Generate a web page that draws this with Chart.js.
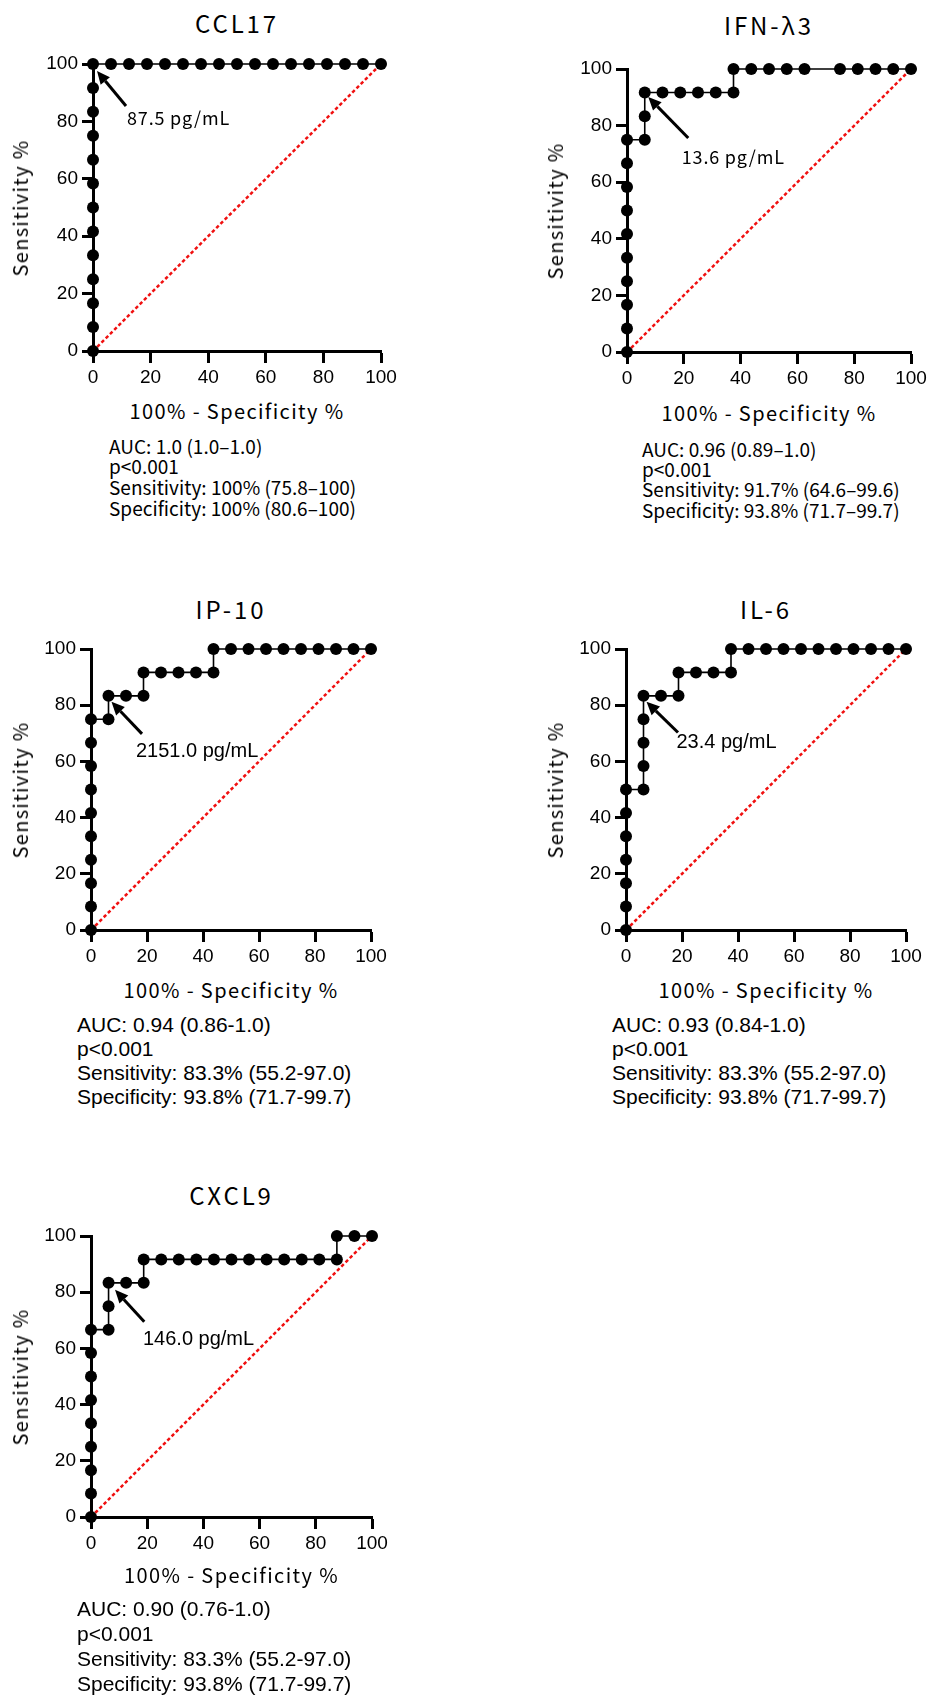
<!DOCTYPE html>
<html lang="en">
<head>
<meta charset="UTF-8">
<title>ROC curves</title>
<script src="https://cdn.jsdelivr.net/npm/chart.js"></script>
<style>
  body { margin: 0; background: #fff; }
  #page { position: relative; width: 928px; height: 1696px; overflow: hidden; background: #fff; }
  canvas { position: absolute; }
  .txt { position: absolute; white-space: nowrap; color: #000; }
  .jp { font-family: "Noto Sans CJK JP", sans-serif; }
  .ar { font-family: "Liberation Sans", Arial, sans-serif; }
</style>
</head>
<body>
<div id="page"></div>
<script>
// ROC points: x = 100% - specificity, y = sensitivity
const ccl17X = [0, 0, 0, 0, 0, 0, 0, 0, 0, 0, 0, 0, 0,
  6.25, 12.5, 18.75, 25, 31.25, 37.5, 43.75, 50, 56.25, 62.5, 68.75, 75, 81.25, 87.5, 93.75, 100];
const ccl17Y = [0, 8.33, 16.67, 25, 33.33, 41.67, 50, 58.33, 66.67, 75, 83.33, 91.67, 100,
  100, 100, 100, 100, 100, 100, 100, 100, 100, 100, 100, 100, 100, 100, 100, 100];

const ifnX = [0, 0, 0, 0, 0, 0, 0, 0, 0, 0, 6.25, 6.25, 6.25, 12.5, 18.75, 25, 31.25, 37.5,
  37.5, 43.75, 50, 56.25, 62.5, 75, 81.25, 87.5, 93.75, 100];
const ifnY = [0, 8.33, 16.67, 25, 33.33, 41.67, 50, 58.33, 66.67, 75, 75, 83.33, 91.67, 91.67, 91.67, 91.67, 91.67, 91.67,
  100, 100, 100, 100, 100, 100, 100, 100, 100, 100];

const ip10X = [0, 0, 0, 0, 0, 0, 0, 0, 0, 0, 6.25, 6.25, 12.5, 18.75, 18.75, 25, 31.25, 37.5, 43.75,
  43.75, 50, 56.25, 62.5, 68.75, 75, 81.25, 87.5, 93.75, 100];
const ip10Y = [0, 8.33, 16.67, 25, 33.33, 41.67, 50, 58.33, 66.67, 75, 75, 83.33, 83.33, 83.33, 91.67, 91.67, 91.67, 91.67, 91.67,
  100, 100, 100, 100, 100, 100, 100, 100, 100, 100];

const il6X = [0, 0, 0, 0, 0, 0, 0, 6.25, 6.25, 6.25, 6.25, 6.25, 12.5, 18.75, 18.75, 25, 31.25, 37.5,
  37.5, 43.75, 50, 56.25, 62.5, 68.75, 75, 81.25, 87.5, 93.75, 100];
const il6Y = [0, 8.33, 16.67, 25, 33.33, 41.67, 50, 50, 58.33, 66.67, 75, 83.33, 83.33, 83.33, 91.67, 91.67, 91.67, 91.67,
  100, 100, 100, 100, 100, 100, 100, 100, 100, 100, 100];

const cxcl9X = [0, 0, 0, 0, 0, 0, 0, 0, 0, 6.25, 6.25, 6.25, 12.5, 18.75, 18.75,
  25, 31.25, 37.5, 43.75, 50, 56.25, 62.5, 68.75, 75, 81.25, 87.5, 87.5, 93.75, 100];
const cxcl9Y = [0, 8.33, 16.67, 25, 33.33, 41.67, 50, 58.33, 66.67, 66.67, 75, 83.33, 83.33, 83.33, 91.67,
  91.67, 91.67, 91.67, 91.67, 91.67, 91.67, 91.67, 91.67, 91.67, 91.67, 91.67, 100, 100, 100];

const titles = ['CCL17', 'IFN-\u03bb3', 'IP-10', 'IL-6', 'CXCL9'];
const cutoffLabels = ['87.5 pg/mL', '13.6 pg/mL', '2151.0 pg/mL', '23.4 pg/mL', '146.0 pg/mL'];
const cutoffIndex = [12, 12, 11, 11, 11];
const statLines = [
  ['AUC: 1.0 (1.0\u20131.0)', 'p\u003c0.001', 'Sensitivity: 100% (75.8\u2013100)', 'Specificity: 100% (80.6\u2013100)'],
  ['AUC: 0.96 (0.89\u20131.0)', 'p\u003c0.001', 'Sensitivity: 91.7% (64.6\u201399.6)', 'Specificity: 93.8% (71.7\u201399.7)'],
  ['AUC: 0.94 (0.86-1.0)', 'p<0.001', 'Sensitivity: 83.3% (55.2-97.0)', 'Specificity: 93.8% (71.7-99.7)'],
  ['AUC: 0.93 (0.84-1.0)', 'p<0.001', 'Sensitivity: 83.3% (55.2-97.0)', 'Specificity: 93.8% (71.7-99.7)'],
  ['AUC: 0.90 (0.76-1.0)', 'p<0.001', 'Sensitivity: 83.3% (55.2-97.0)', 'Specificity: 93.8% (71.7-99.7)']
];
const xTitle = '100% - Specificity %';
const yTitle = 'Sensitivity %';

// layout of each panel (plot rectangle, text anchors, arrow offsets)
const layouts = [
  { L: 93, R: 381, T: 64, B: 351, titleY: 23, xTitleY: 411, yTitleX: 20, statX: 109, statY: 446, statLH: 20.8, jp: true,
    tip: [4, 7], tail: [33, 42], text: [34, 54] },
  { L: 627, R: 911, T: 69, B: 352, titleY: 25, xTitleY: 413, yTitleX: 555, statX: 642, statY: 449, statLH: 20.2, jp: true,
    tip: [3.5, 4.5], tail: [43.5, 45.5], text: [37, 64.5] },
  { L: 91, R: 371, T: 649, B: 930, titleY: 609, xTitleY: 990, yTitleX: 20, statX: 77, statY: 1025, statLH: 24, jp: false,
    tip: [3, 6], tail: [33.5, 38], text: [27.5, 55.7] },
  { L: 626, R: 906, T: 649, B: 930, titleY: 609, xTitleY: 990, yTitleX: 555, statX: 612, statY: 1025, statLH: 24, jp: false,
    tip: [3, 6], tail: [34.5, 36.7], text: [33, 47] },
  { L: 91, R: 372, T: 1236, B: 1517, titleY: 1195, xTitleY: 1575, yTitleX: 20, statX: 77, statY: 1608, statLH: 25, jp: false,
    tip: [6.5, 7], tail: [35.7, 39], text: [34.4, 57] }
];
const seriesX = [ccl17X, ifnX, ip10X, il6X, cxcl9X];
const seriesY = [ccl17Y, ifnY, ip10Y, il6Y, cxcl9Y];

const JP = '"Noto Sans CJK JP", sans-serif';
const AR = '"Liberation Sans", Arial, sans-serif';

// letter spacing needed so a string hits a measured width
const measurer = document.createElement('canvas').getContext('2d');
function spacingFor(font, text, target) {
  measurer.font = font;
  return (target - measurer.measureText(text).width) / text.length;
}
const titleLS = spacingFor('24px ' + JP, 'CCL17', 84);
const axisLS = spacingFor('20px ' + JP, xTitle, 215);
const yAxisLS = spacingFor('20px ' + JP, yTitle, 137);
const statJpLS = spacingFor('19px ' + JP, 'Specificity: 100% (80.6\u2013100)', 247);
const annJpLS = spacingFor('18px ' + JP, '87.5 pg/mL', 103);

const page = document.getElementById('page');
function addText(text, cls, css) {
  const d = document.createElement('div');
  d.className = 'txt ' + cls;
  d.textContent = text;
  Object.assign(d.style, css);
  page.appendChild(d);
  return d;
}

// arrow + cutoff label at the chosen point
const cutoffArrow = {
  id: 'cutoffArrow',
  afterDatasetsDraw(chart, args, opts) {
    const p = chart.data.datasets[0].data[opts.index];
    const px = chart.scales.x.getPixelForValue(p.x);
    const py = chart.scales.y.getPixelForValue(p.y);
    const ctx = chart.ctx;
    const tx = px + opts.tip[0], ty = py + opts.tip[1];
    const sx = px + opts.tail[0], sy = py + opts.tail[1];
    const ang = Math.atan2(ty - sy, tx - sx);
    const head = 13, half = 6;
    const bx = tx - head * Math.cos(ang), by = ty - head * Math.sin(ang);
    ctx.save();
    ctx.strokeStyle = '#000';
    ctx.fillStyle = '#000';
    ctx.lineWidth = 3;
    ctx.beginPath();
    ctx.moveTo(sx, sy);
    ctx.lineTo(bx, by);
    ctx.stroke();
    ctx.beginPath();
    ctx.moveTo(tx, ty);
    ctx.lineTo(bx + half * Math.sin(ang), by - half * Math.cos(ang));
    ctx.lineTo(bx - half * Math.sin(ang), by + half * Math.cos(ang));
    ctx.closePath();
    ctx.fill();
    ctx.font = opts.font;
    if ('letterSpacing' in ctx) ctx.letterSpacing = opts.spacing + 'px';
    ctx.textAlign = 'left';
    ctx.textBaseline = 'middle';
    ctx.fillText(opts.label, px + opts.text[0], py + opts.text[1]);
    ctx.restore();
  }
};

const PAD_TOP = 20, PAD_RIGHT = 25, Y_AXIS_W = 60, X_AXIS_H = 45;

layouts.forEach((lay, i) => {
  const canvas = document.createElement('canvas');
  const w = Y_AXIS_W + (lay.R - lay.L) + PAD_RIGHT;
  const h = PAD_TOP + (lay.B - lay.T) + X_AXIS_H;
  canvas.width = w;
  canvas.height = h;
  canvas.style.left = (lay.L - Y_AXIS_W) + 'px';
  canvas.style.top = (lay.T - PAD_TOP) + 'px';
  canvas.style.width = w + 'px';
  canvas.style.height = h + 'px';
  page.appendChild(canvas);

  const pts = seriesX[i].map((x, k) => ({ x: x, y: seriesY[i][k] }));
  const tickFont = { family: AR, size: 19 };

  new Chart(canvas, {
    type: 'scatter',
    data: {
      datasets: [{
        data: pts,
        showLine: true,
        borderColor: '#000',
        borderWidth: 1.6,
        pointRadius: 6,
        pointHoverRadius: 6,
        pointBackgroundColor: '#000',
        pointBorderWidth: 0,
        clip: false,
        order: 0
      }, {
        data: [{ x: 0, y: 0 }, { x: 100, y: 100 }],
        showLine: true,
        borderColor: '#f01010',
        borderWidth: 2.5,
        borderDash: [3.5, 2.5],
        pointRadius: 0,
        order: 1
      }]
    },
    options: {
      responsive: false,
      animation: false,
      devicePixelRatio: 1,
      events: [],
      layout: { padding: { top: PAD_TOP, right: PAD_RIGHT, left: 0, bottom: 0 } },
      plugins: {
        legend: { display: false },
        tooltip: { enabled: false },
        cutoffArrow: {
          index: cutoffIndex[i],
          label: cutoffLabels[i],
          tip: lay.tip, tail: lay.tail, text: lay.text,
          font: lay.jp ? '18px ' + JP : '20px ' + AR,
          spacing: lay.jp ? annJpLS : 0
        }
      },
      scales: {
        x: {
          type: 'linear', min: 0, max: 100,
          ticks: { stepSize: 20, color: '#000', font: tickFont, padding: 3, maxRotation: 0 },
          grid: { drawOnChartArea: false, tickLength: 12, tickWidth: 3, tickColor: '#000' },
          border: { display: true, width: 3, color: '#000' },
          afterFit(s) { s.height = X_AXIS_H; s.paddingLeft = 0; s.paddingRight = 0; }
        },
        y: {
          type: 'linear', min: 0, max: 100,
          ticks: { stepSize: 20, color: '#000', font: tickFont, padding: 4 },
          grid: { drawOnChartArea: false, tickLength: 11, tickWidth: 3, tickColor: '#000' },
          border: { display: true, width: 3, color: '#000' },
          afterFit(s) { s.width = Y_AXIS_W; s.paddingTop = 0; s.paddingBottom = 0; }
        }
      }
    },
    plugins: [cutoffArrow]
  });

  const cx = (lay.L + lay.R) / 2;
  const cy = (lay.T + lay.B) / 2;
  addText(titles[i], 'jp', { left: cx + 'px', top: (lay.titleY - 16) + 'px', lineHeight: '32px',
    fontSize: '24px', letterSpacing: titleLS + 'px', transform: 'translateX(-50%)' });
  addText(xTitle, 'jp', { left: cx + 'px', top: (lay.xTitleY - 14) + 'px', lineHeight: '28px',
    fontSize: '20px', letterSpacing: axisLS + 'px', transform: 'translateX(-50%)' });
  addText(yTitle, 'jp', { left: lay.yTitleX + 'px', top: cy + 'px', lineHeight: '28px',
    fontSize: '20px', letterSpacing: yAxisLS + 'px', transform: 'translate(-50%, -50%) rotate(-90deg)' });
  addText('', lay.jp ? 'jp' : 'ar', {
    left: lay.statX + 'px', top: (lay.statY - lay.statLH / 2) + 'px', lineHeight: lay.statLH + 'px',
    fontSize: lay.jp ? '19px' : '21px', letterSpacing: (lay.jp ? statJpLS : 0) + 'px'
  }).innerHTML = statLines[i].map(t => t.replace(/</g, '&lt;')).join('<br>');
});
</script>
</body>
</html>
